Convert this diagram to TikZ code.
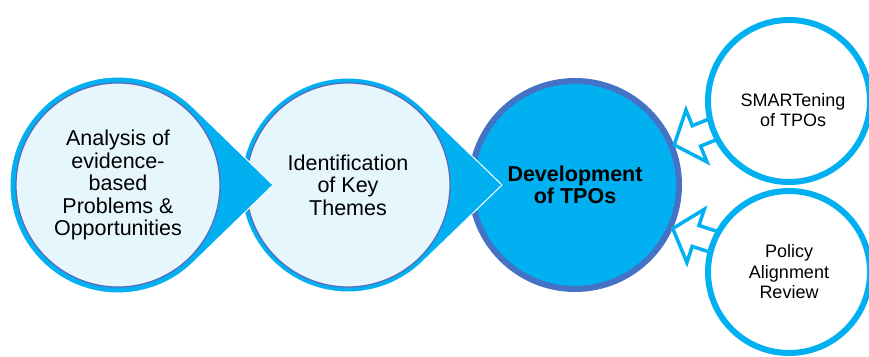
\documentclass[tikz,border=0pt]{standalone}
\usepackage{fontspec}
\setmainfont{Liberation Sans}
\usetikzlibrary{calc}
\definecolor{ringcyan}{RGB}{0,176,240}
\definecolor{stagefill}{RGB}{230,246,253}
\definecolor{stageline}{RGB}{92,104,182}
\definecolor{devline}{RGB}{68,114,196}

\begin{document}
\begin{tikzpicture}[
  x=1pt, y=1pt,
  every node/.style={align=center, font=\fontsize{21.5}{22.5}\selectfont},
  stage/.style={circle, draw=stageline, line width=1.2pt, fill=stagefill, minimum size=204pt, inner sep=0pt},
  tear/.style={fill=ringcyan, draw=white, line width=1pt},
  goal/.style={circle, draw=devline, line width=6pt, fill=ringcyan, minimum size=208pt, inner sep=0pt, font=\fontsize{21.5}{22.5}\selectfont\bfseries},
  check/.style={circle, draw=ringcyan, line width=6pt, fill=white, minimum size=162pt, inner sep=0pt},
  checktext/.style={font=\fontsize{18}{20.5}\selectfont},
  hollow/.style={draw=ringcyan, fill=white, line width=3.5pt, line join=miter}
]
\useasboundingbox (0,0) rectangle (869,356);

% goal in the middle
\node[goal] (dev) at (575,171) {Development\\of TPOs};

% feedback arrows
\draw[hollow, shift={(dev.22)}, rotate=22] (0,0) -- (24,28) -- (24,11) -- (70,11) -- (70,-11) -- (24,-11) -- (24,-28) -- cycle;
\draw[hollow, shift={(dev.-24)}, rotate=-18] (0,0) -- (24,28) -- (24,11) -- (70,11) -- (70,-11) -- (24,-11) -- (24,-28) -- cycle;

% checks on the right
\node[check] (smart) at (789,255) {};
\node[checktext] (smarttext) at ($(smart)+(4,-9)$) {SMARTening\\of TPOs};
\node[check] (policy) at (789,84) {};
\node[checktext] (policytext) at (policy) {Policy\\Alignment\\Review};

% stages, right to left
\coordinate (c2) at (348,171);
\filldraw[tear] ($(c2)+(46:107)$) -- ($(c2)+(154,0)$) -- ($(c2)+(-46:107)$)
  arc[start angle=-46, end angle=-314, radius=107] -- cycle;
\node[stage] (themes) at (c2) {Identification\\of Key\\Themes};

\coordinate (c1) at (118,171);
\filldraw[tear] ($(c1)+(46:108)$) -- ($(c1)+(155,0)$) -- ($(c1)+(-46:108)$)
  arc[start angle=-46, end angle=-314, radius=108] -- cycle;
\node[stage] (analysis) at (c1) {Analysis of\\evidence-\\based\\Problems \&\\Opportunities};
\end{tikzpicture}
\end{document}
